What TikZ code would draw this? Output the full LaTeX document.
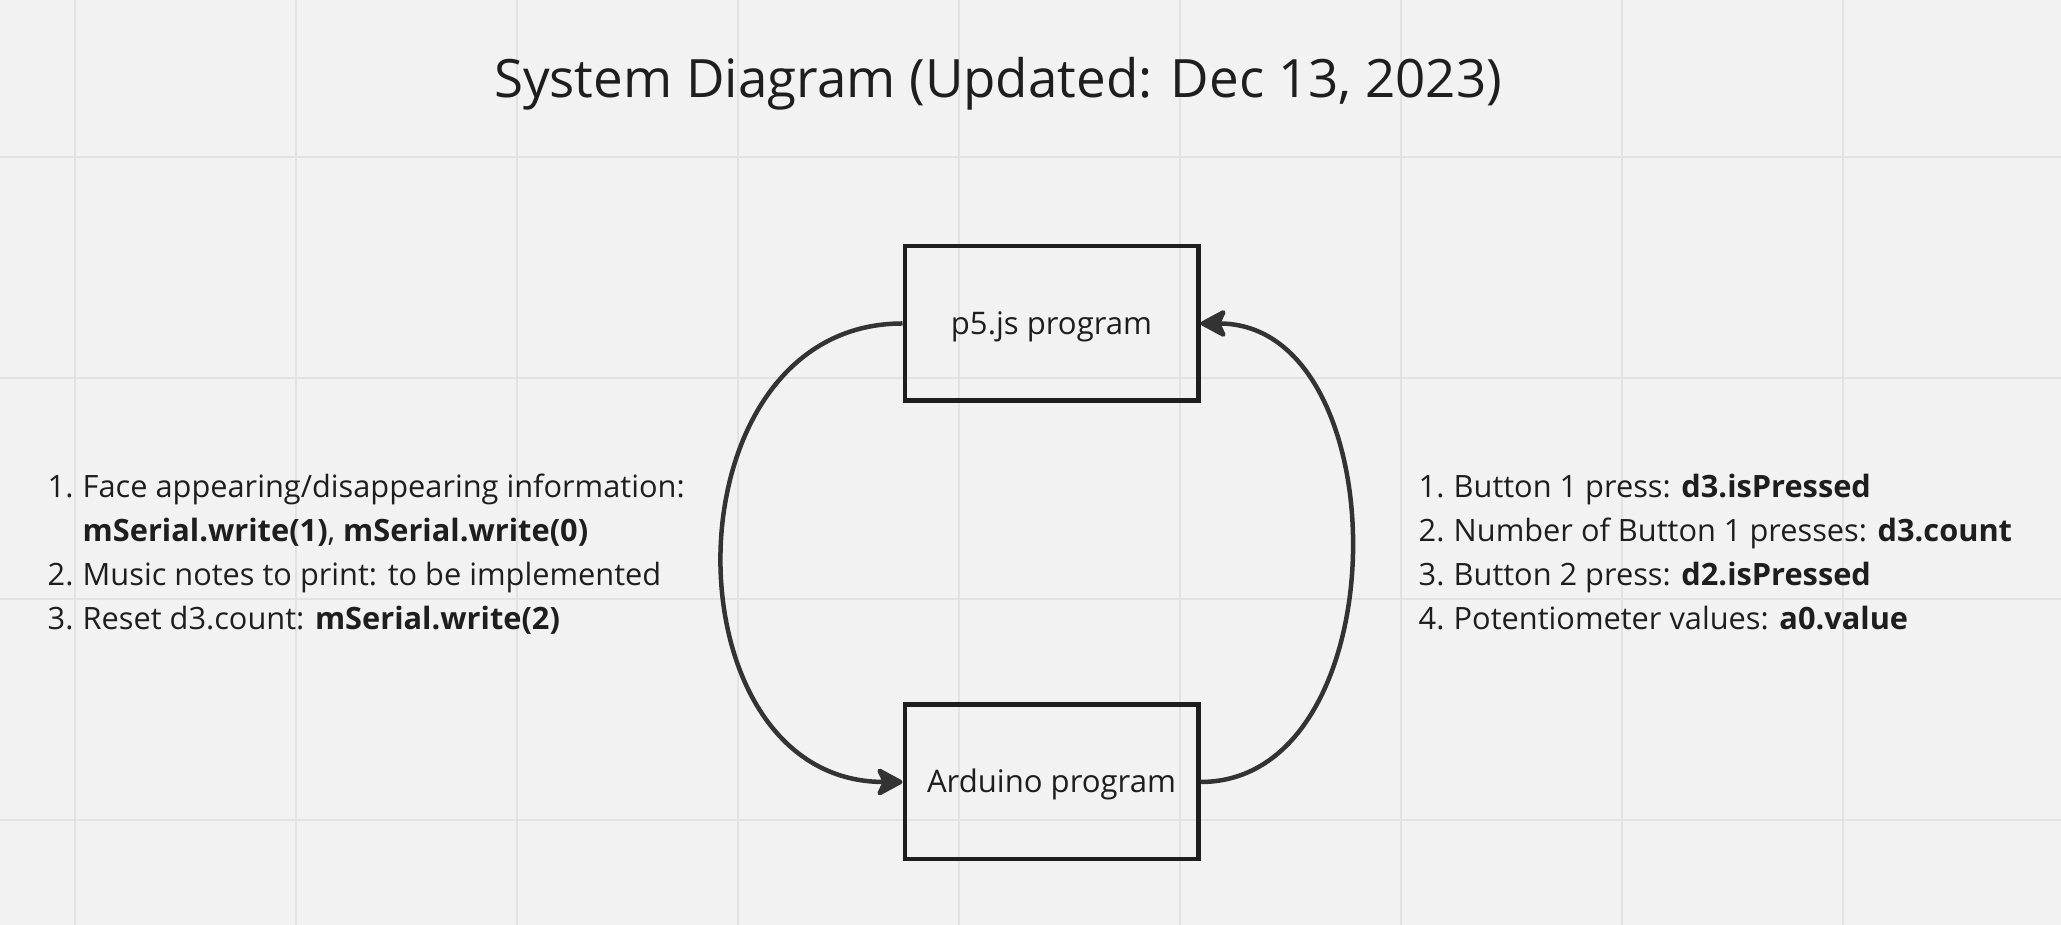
\documentclass[tikz,border=0pt]{standalone}
\usepackage{fontspec}
\setmainfont{Open Sans}
\usetikzlibrary{arrows.meta}
\definecolor{paper}{HTML}{F2F2F2}
\definecolor{gridcol}{HTML}{E2E2E2}
\definecolor{ink}{HTML}{1E1E1E}
\definecolor{wire}{HTML}{333333}
\newcommand{\num}[1]{\makebox[0.35cm][l]{#1}}

\tikzset{
	block/.style={draw=ink, line width=0.045cm, minimum width=2.935cm, minimum height=1.545cm, inner sep=0pt, text height=0.22cm, text depth=0cm, text=ink, font=\fontsize{8.85}{11}\selectfont},
	link/.style={draw=wire, line width=0.045cm, -{Stealth[length=0.30cm,width=0.32cm,inset=0.075cm,round]}},
	listtxt/.style={anchor=base west, inner sep=0pt, text=ink, font=\fontsize{8.75}{11}\selectfont},
	gridline/.style={draw=gridcol, line width=0.02cm}
}

\begin{document}
\begin{tikzpicture}
			%%%%% BACKGROUND %%%%%
			
			\fill[paper] (0, 0) rectangle (20.61, 9.25);
			\useasboundingbox (0, 0) rectangle (20.61, 9.25);
			
			\foreach \x in {0,...,8}
				\draw[gridline] ({0.75+2.21*\x}, 0) -- ({0.75+2.21*\x}, 9.25);
			\foreach \y in {7.68, 5.47, 3.26, 1.05}
				\draw[gridline] (0, \y) -- (20.61, \y);
			
			%%%%% TITLE %%%%%
			
			\node[anchor=base, inner sep=0pt, text=ink, font=\fontsize{15.05}{18}\selectfont] (title) at (9.98, 8.27) {System Diagram (Updated: Dec 13, 2023)};
			
			%%%%% BLOCKS %%%%%
			
			\node[block] (p5) at (10.515, 6.015) {p5.js program};
			\node[block] (ard) at (10.515, 1.43) {Arduino program};
			
			\draw[link] (p5.west) to[out=180, in=180, looseness=1.34] (ard.west);
			\draw[link] (ard.east) to[out=0, in=0, looseness=1.12] (p5.east);
			
			%%%%% LEFT LIST %%%%%
			
			\node[listtxt] (l1) at (0.47, 4.27) {\num{1.}Face appearing/disappearing information:};
			\node[listtxt] (l1b) at (0.47, 3.83) {\num{}\textbf{mSerial.write(1)}, \textbf{mSerial.write(0)}};
			\node[listtxt] (l2) at (0.47, 3.39) {\num{2.}Music notes to print: to be implemented};
			\node[listtxt] (l3) at (0.47, 2.95) {\num{3.}Reset d3.count: \textbf{mSerial.write(2)}};
			
			%%%%% RIGHT LIST %%%%%
			
			\node[listtxt] (r1) at (14.18, 4.27) {\num{1.}Button 1 press: \textbf{d3.isPressed}};
			\node[listtxt] (r2) at (14.18, 3.83) {\num{2.}Number of Button 1 presses: \textbf{d3.count}};
			\node[listtxt] (r3) at (14.18, 3.39) {\num{3.}Button 2 press: \textbf{d2.isPressed}};
			\node[listtxt] (r4) at (14.18, 2.95) {\num{4.}Potentiometer values: \textbf{a0.value}};
			
			%%%%% END %%%%%
\end{tikzpicture}
\end{document}
